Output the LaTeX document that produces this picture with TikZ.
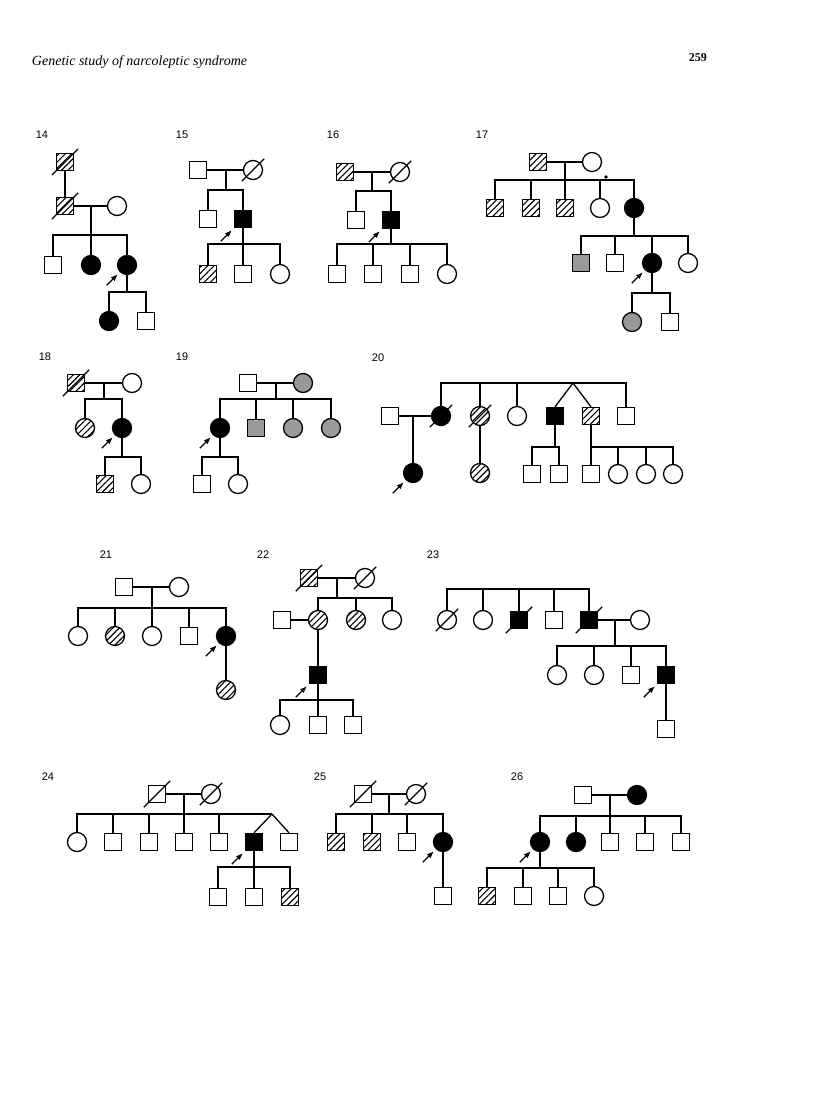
\documentclass[tikz,border=0pt]{standalone}
\usepackage{fontspec}
\setmainfont{Liberation Serif}
\newfontfamily\numfont{Liberation Sans}
\usetikzlibrary{arrows.meta,calc,patterns.meta}

\newcommand{\deceased}[1]{\draw[line width=1.1pt] ([shift={(-4pt,-4pt)}]#1.225) -- ([shift={(4pt,4pt)}]#1.45);}
\newcommand{\proband}[1]{\draw[pa] ([shift={(-13pt,-13pt)}]#1.225) -- ([shift={(-2pt,-2pt)}]#1.225);}

\begin{document}
\begin{tikzpicture}[x=1pt,y=-1pt,line width=1.3pt,>={Latex[length=7pt,width=5.5pt]},
  male/.style={draw,rectangle,minimum size=17pt,inner sep=0pt},
  female/.style={draw,circle,minimum size=19pt,inner sep=0pt},
  aff/.style={fill=black},
  hat/.style={pattern={Lines[angle=45,distance=4.5pt,line width=1.1pt]}},
  stip/.style={fill=black!40},
  num/.style={font=\numfont\fontsize{11}{13}\selectfont},
  pa/.style={->,line width=1.2pt}]
  \useasboundingbox (0,0) rectangle (816,1110);
  \node[font=\fontsize{14}{16}\selectfont\itshape,anchor=base west] (title) at (28,66) {Genetic study of narcoleptic syndrome};
  \node[font=\fontsize{12}{14}\selectfont\bfseries,anchor=base west] (page) at (685,62) {259};

  % 14
  \node[num] (l14) at (42,135) {14};
  \node[male,hat] (p14a) at (65,162) {};
  \node[male,hat] (p14b) at (65,206) {};
  \node[female] (p14c) at (117,206) {};
  \node[male] (p14d) at (53,265) {};
  \node[female,aff] (p14e) at (91,265) {};
  \node[female,aff] (p14f) at (127,265) {};
  \node[female,aff] (p14g) at (109,321) {};
  \node[male] (p14h) at (146,321) {};
  \coordinate (s14a) at (91,235);
  \coordinate (s14b) at (127,292);
  \draw (p14a) -- (p14b);
  \draw (p14b) -- (p14c);
  \draw (p14e) -- (p14e |- p14b);
  \draw (p14d.north) |- (s14a) -| (p14f.north);
  \draw (p14f) -- (s14b);
  \draw (p14g.north) |- (s14b) -| (p14h.north);
  \deceased{p14a} \deceased{p14b} \proband{p14f}

  % 15
  \node[num] (l15) at (182,135) {15};
  \node[male] (p15a) at (198,170) {};
  \node[female] (p15b) at (253,170) {};
  \node[male] (p15c) at (208,219) {};
  \node[male,aff] (p15d) at (243,219) {};
  \node[male,hat] (p15e) at (208,274) {};
  \node[male] (p15f) at (243,274) {};
  \node[female] (p15g) at (280,274) {};
  \coordinate (m15) at (226,170);
  \coordinate (s15a) at (226,190);
  \coordinate (s15b) at (243,244);
  \draw (p15a) -- (p15b);
  \draw (m15) -- (s15a);
  \draw (p15c.north) |- (s15a) -| (p15d.north);
  \draw (p15d) -- (p15f);
  \draw (p15e.north) |- (s15b) -| (p15g.north);
  \deceased{p15b} \proband{p15d}

  % 16
  \node[num] (l16) at (333,135) {16};
  \node[male,hat] (p16a) at (345,172) {};
  \node[female] (p16b) at (400,172) {};
  \node[male] (p16c) at (356,220) {};
  \node[male,aff] (p16d) at (391,220) {};
  \node[male] (p16e) at (337,274) {};
  \node[male] (p16f) at (373,274) {};
  \node[male] (p16g) at (410,274) {};
  \node[female] (p16h) at (447,274) {};
  \coordinate (m16) at (372,172);
  \coordinate (s16a) at (372,191);
  \coordinate (s16b) at (391,244);
  \draw (p16a) -- (p16b);
  \draw (m16) -- (s16a);
  \draw (p16c.north) |- (s16a) -| (p16d.north);
  \draw (p16d) -- (s16b);
  \draw (p16e.north) |- (s16b) -| (p16h.north);
  \draw (p16f.north) -- (p16f.north |- s16b);
  \draw (p16g.north) -- (p16g.north |- s16b);
  \deceased{p16b} \proband{p16d}

  % 17
  \node[num] (l17) at (482,135) {17};
  \node[male,hat] (p17a) at (538,162) {};
  \node[female] (p17b) at (592,162) {};
  \node[male,hat] (p17c) at (495,208) {};
  \node[male,hat] (p17d) at (531,208) {};
  \node[male,hat] (p17e) at (565,208) {};
  \node[female] (p17f) at (600,208) {};
  \node[female,aff] (p17g) at (634,208) {};
  \node[circle,fill,inner sep=1.3pt] (p17dot) at (606,177) {};
  \node[male,stip] (p17h) at (581,263) {};
  \node[male] (p17i) at (615,263) {};
  \node[female,aff] (p17j) at (652,263) {};
  \node[female] (p17k) at (688,263) {};
  \node[female,stip] (p17l) at (632,322) {};
  \node[male] (p17n) at (670,322) {};
  \coordinate (m17) at (565,162);
  \coordinate (s17a) at (565,180);
  \coordinate (s17b) at (634,236);
  \coordinate (s17c) at (652,293);
  \draw (p17a) -- (p17b);
  \draw (m17) -- (p17e);
  \draw (p17c.north) |- (s17a) -| (p17g.north);
  \draw (p17d.north) -- (p17d.north |- s17a);
  \draw (p17f.north) -- (p17f.north |- s17a);
  \draw (p17g) -- (s17b);
  \draw (p17h.north) |- (s17b) -| (p17k.north);
  \draw (p17i.north) -- (p17i.north |- s17b);
  \draw (p17j.north) -- (p17j.north |- s17b);
  \draw (p17j) -- (s17c);
  \draw (p17l.north) |- (s17c) -| (p17n.north);
  \proband{p17j}

  % 18
  \node[num] (l18) at (45,357) {18};
  \node[male,hat] (p18a) at (76,383) {};
  \node[female] (p18b) at (132,383) {};
  \node[female,hat] (p18c) at (85,428) {};
  \node[female,aff] (p18d) at (122,428) {};
  \node[male,hat] (p18e) at (105,484) {};
  \node[female] (p18f) at (141,484) {};
  \coordinate (m18) at (104,383);
  \coordinate (s18a) at (104,399);
  \coordinate (s18b) at (122,457);
  \draw (p18a) -- (p18b);
  \draw (m18) -- (s18a);
  \draw (p18c.north) |- (s18a) -| (p18d.north);
  \draw (p18d) -- (s18b);
  \draw (p18e.north) |- (s18b) -| (p18f.north);
  \deceased{p18a} \proband{p18d}

  % 19
  \node[num] (l19) at (182,357) {19};
  \node[male] (p19a) at (248,383) {};
  \node[female,stip] (p19b) at (303,383) {};
  \node[female,aff] (p19c) at (220,428) {};
  \node[male,stip] (p19d) at (256,428) {};
  \node[female,stip] (p19e) at (293,428) {};
  \node[female,stip] (p19f) at (331,428) {};
  \node[male] (p19g) at (202,484) {};
  \node[female] (p19h) at (238,484) {};
  \coordinate (m19) at (276,383);
  \coordinate (s19a) at (276,399);
  \coordinate (s19b) at (220,457);
  \draw (p19a) -- (p19b);
  \draw (m19) -- (s19a);
  \draw (p19c.north) |- (s19a) -| (p19f.north);
  \draw (p19d.north) -- (p19d.north |- s19a);
  \draw (p19e.north) -- (p19e.north |- s19a);
  \draw (p19c) -- (s19b);
  \draw (p19g.north) |- (s19b) -| (p19h.north);
  \proband{p19c}

  % 20
  \node[num] (l20) at (378,358) {20};
  \node[male] (p20a) at (390,416) {};
  \node[female,aff] (p20b) at (441,416) {};
  \node[female,hat] (p20c) at (480,416) {};
  \node[female] (p20d) at (517,416) {};
  \node[male,aff] (p20e) at (555,416) {};
  \node[male,hat] (p20f) at (591,416) {};
  \node[male] (p20g) at (626,416) {};
  \node[female,aff] (p20h) at (413,473) {};
  \node[female,hat] (p20i) at (480,473) {};
  \node[male] (p20j) at (532,474) {};
  \node[male] (p20k) at (559,474) {};
  \node[male] (p20l) at (591,474) {};
  \node[female] (p20n) at (618,474) {};
  \node[female] (p20o) at (646,474) {};
  \node[female] (p20q) at (673,474) {};
  \coordinate (t20) at (573,383);
  \coordinate (s20b) at (555,447);
  \coordinate (s20c) at (591,447);
  \draw (p20b.north) |- (t20) -| (p20g.north);
  \draw (p20c.north) -- (p20c.north |- t20);
  \draw (p20d.north) -- (p20d.north |- t20);
  \draw (t20) -- (p20e.north);
  \draw (t20) -- (p20f.north);
  \draw (p20a) -- (p20b);
  \draw (p20h) -- (p20h |- p20a);
  \draw (p20c) -- (p20i);
  \draw (p20e) -- (s20b);
  \draw (p20j.north) |- (s20b) -| (p20k.north);
  \draw (p20f) -- (p20l);
  \draw (s20c) -| (p20q.north);
  \draw (p20n.north) -- (p20n.north |- s20c);
  \draw (p20o.north) -- (p20o.north |- s20c);
  \deceased{p20b} \deceased{p20c} \proband{p20h}

  % 21
  \node[num] (l21) at (106,555) {21};
  \node[male] (p21a) at (124,587) {};
  \node[female] (p21b) at (179,587) {};
  \node[female] (p21c) at (78,636) {};
  \node[female,hat] (p21d) at (115,636) {};
  \node[female] (p21e) at (152,636) {};
  \node[male] (p21f) at (189,636) {};
  \node[female,aff] (p21g) at (226,636) {};
  \node[female,hat] (p21h) at (226,690) {};
  \coordinate (m21) at (152,587);
  \coordinate (s21) at (152,608);
  \draw (p21a) -- (p21b);
  \draw (m21) -- (p21e);
  \draw (p21c.north) |- (s21) -| (p21g.north);
  \draw (p21d.north) -- (p21d.north |- s21);
  \draw (p21f.north) -- (p21f.north |- s21);
  \draw (p21g) -- (p21h);
  \proband{p21g}

  % 22
  \node[num] (l22) at (263,555) {22};
  \node[male,hat] (p22a) at (309,578) {};
  \node[female] (p22b) at (365,578) {};
  \node[female,hat] (p22c) at (318,620) {};
  \node[female,hat] (p22d) at (356,620) {};
  \node[female] (p22e) at (392,620) {};
  \node[male] (p22f) at (282,620) {};
  \node[male,aff] (p22g) at (318,675) {};
  \node[female] (p22h) at (280,725) {};
  \node[male] (p22i) at (318,725) {};
  \node[male] (p22j) at (353,725) {};
  \coordinate (m22) at (337,578);
  \coordinate (s22a) at (337,598);
  \coordinate (s22b) at (318,700);
  \draw (p22a) -- (p22b);
  \draw (m22) -- (s22a);
  \draw (p22c.north) |- (s22a) -| (p22e.north);
  \draw (p22d.north) -- (p22d.north |- s22a);
  \draw (p22f) -- (p22c);
  \draw (p22c) -- (p22g);
  \draw (p22g) -- (p22i);
  \draw (p22h.north) |- (s22b) -| (p22j.north);
  \deceased{p22a} \deceased{p22b} \proband{p22g}

  % 23
  \node[num] (l23) at (433,555) {23};
  \node[female] (p23a) at (447,620) {};
  \node[female] (p23b) at (483,620) {};
  \node[male,aff] (p23c) at (519,620) {};
  \node[male] (p23d) at (554,620) {};
  \node[male,aff] (p23e) at (589,620) {};
  \node[female] (p23f) at (640,620) {};
  \node[female] (p23g) at (557,675) {};
  \node[female] (p23h) at (594,675) {};
  \node[male] (p23i) at (631,675) {};
  \node[male,aff] (p23j) at (666,675) {};
  \node[male] (p23k) at (666,729) {};
  \coordinate (s23a) at (589,589);
  \coordinate (m23) at (615,620);
  \coordinate (s23b) at (615,646);
  \draw (p23a.north) |- (s23a) -- (p23e.north);
  \draw (p23b.north) -- (p23b.north |- s23a);
  \draw (p23c.north) -- (p23c.north |- s23a);
  \draw (p23d.north) -- (p23d.north |- s23a);
  \draw (p23e) -- (p23f);
  \draw (m23) -- (s23b);
  \draw (p23g.north) |- (s23b) -| (p23j.north);
  \draw (p23h.north) -- (p23h.north |- s23b);
  \draw (p23i.north) -- (p23i.north |- s23b);
  \draw (p23j) -- (p23k);
  \deceased{p23a} \deceased{p23c} \deceased{p23e} \proband{p23j}

  % 24
  \node[num] (l24) at (48,777) {24};
  \node[male] (p24a) at (157,794) {};
  \node[female] (p24b) at (211,794) {};
  \node[female] (p24c) at (77,842) {};
  \node[male] (p24d) at (113,842) {};
  \node[male] (p24e) at (149,842) {};
  \node[male] (p24f) at (184,842) {};
  \node[male] (p24g) at (219,842) {};
  \node[male,aff] (p24h) at (254,842) {};
  \node[male] (p24i) at (289,842) {};
  \node[male] (p24j) at (218,897) {};
  \node[male] (p24k) at (254,897) {};
  \node[male,hat] (p24l) at (290,897) {};
  \coordinate (m24) at (184,794);
  \coordinate (t24) at (272,814);
  \coordinate (s24) at (254,867);
  \draw (p24a) -- (p24b);
  \draw (m24) -- (p24f);
  \draw (p24c.north) |- (t24);
  \draw (p24d.north) -- (p24d.north |- t24);
  \draw (p24e.north) -- (p24e.north |- t24);
  \draw (p24g.north) -- (p24g.north |- t24);
  \draw (t24) -- (p24h.north);
  \draw (t24) -- (p24i.north);
  \draw (p24h) -- (p24k);
  \draw (p24j.north) |- (s24) -| (p24l.north);
  \deceased{p24a} \deceased{p24b} \proband{p24h}

  % 25
  \node[num] (l25) at (320,777) {25};
  \node[male] (p25a) at (363,794) {};
  \node[female] (p25b) at (416,794) {};
  \node[male,hat] (p25c) at (336,842) {};
  \node[male,hat] (p25d) at (372,842) {};
  \node[male] (p25e) at (407,842) {};
  \node[female,aff] (p25f) at (443,842) {};
  \node[male] (p25g) at (443,896) {};
  \coordinate (m25) at (389,794);
  \coordinate (s25) at (389,814);
  \draw (p25a) -- (p25b);
  \draw (m25) -- (s25);
  \draw (p25c.north) |- (s25) -| (p25f.north);
  \draw (p25d.north) -- (p25d.north |- s25);
  \draw (p25e.north) -- (p25e.north |- s25);
  \draw (p25f) -- (p25g);
  \deceased{p25a} \deceased{p25b} \proband{p25f}

  % 26
  \node[num] (l26) at (517,777) {26};
  \node[male] (p26a) at (583,795) {};
  \node[female,aff] (p26b) at (637,795) {};
  \node[female,aff] (p26c) at (540,842) {};
  \node[female,aff] (p26d) at (576,842) {};
  \node[male] (p26e) at (610,842) {};
  \node[male] (p26f) at (645,842) {};
  \node[male] (p26g) at (681,842) {};
  \node[male,hat] (p26h) at (487,896) {};
  \node[male] (p26i) at (523,896) {};
  \node[male] (p26j) at (558,896) {};
  \node[female] (p26k) at (594,896) {};
  \coordinate (m26) at (610,795);
  \coordinate (s26a) at (610,816);
  \coordinate (s26b) at (540,868);
  \draw (p26a) -- (p26b);
  \draw (m26) -- (p26e);
  \draw (p26c.north) |- (s26a) -| (p26g.north);
  \draw (p26d.north) -- (p26d.north |- s26a);
  \draw (p26f.north) -- (p26f.north |- s26a);
  \draw (p26c) -- (s26b);
  \draw (p26h.north) |- (s26b) -| (p26k.north);
  \draw (p26i.north) -- (p26i.north |- s26b);
  \draw (p26j.north) -- (p26j.north |- s26b);
  \proband{p26c}
\end{tikzpicture}
\end{document}
